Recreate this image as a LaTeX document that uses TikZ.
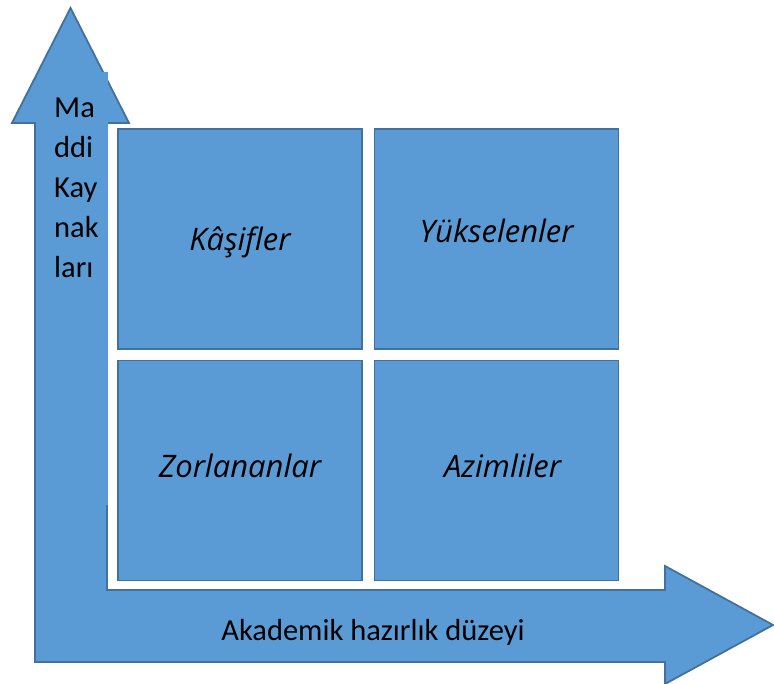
\documentclass[tikz,border=0pt]{standalone}
\usepackage{fontspec}
\setmainfont{Carlito}
\newfontfamily\handfont{Open Sans}
\usetikzlibrary{positioning}
\definecolor{officeblue}{HTML}{5B9BD5}
\definecolor{officeline}{HTML}{41719C}
\begin{document}
\begin{tikzpicture}[x=1pt, y=-1pt, line join=miter,
    quad/.style={draw=officeline, fill=officeblue, line width=1.6pt,
      minimum width=244pt, minimum height=220pt, inner sep=0pt},
    hand/.style={font=\handfont\itshape\fontsize{31}{34}\selectfont},
    axis/.style={font=\fontsize{30.5}{40}\selectfont, inner sep=0pt}]
  \useasboundingbox (0,0) rectangle (774,684);
  % bent double arrow
  \draw[officeline, fill=officeblue, line width=1.8pt]
    (35,662) -- (35,123) -- (12,123) -- (70.5,8) -- (129,123) -- (107,123)
    -- (107,590) -- (665,590) -- (665,566) -- (773,625) -- (665,684)
    -- (665,662) -- cycle;
  % text box of the vertical axis
  \fill[officeblue] (45,72) rectangle (108,505);
  \node[axis, anchor=north west, align=left] (madde) at (54,98)
    {Ma\\ddi\\Kay\\nak\\ları};
  \node[axis] (akad) at (373,632) {Akademik hazırlık düzeyi};
  % quadrants
  \node[quad] (kasif) at (240,239) {};
  \node[quad, right=11pt of kasif] (yuksel) {};
  \node[quad, below=10pt of kasif] (zorlan) {};
  \node[quad, right=11pt of zorlan] (azim) {};
  \node[hand] (kasifT) at ([yshift=-3pt]kasif) {Kâşifler};
  \node[hand] (yukselT) at ([yshift=8pt]yuksel) {Yükselenler};
  \node[hand] (zorlanT) at ([yshift=5pt]zorlan) {Zorlananlar};
  \node[hand] (azimT) at ([xshift=6pt, yshift=5pt]azim) {Azimliler};
\end{tikzpicture}
\end{document}
